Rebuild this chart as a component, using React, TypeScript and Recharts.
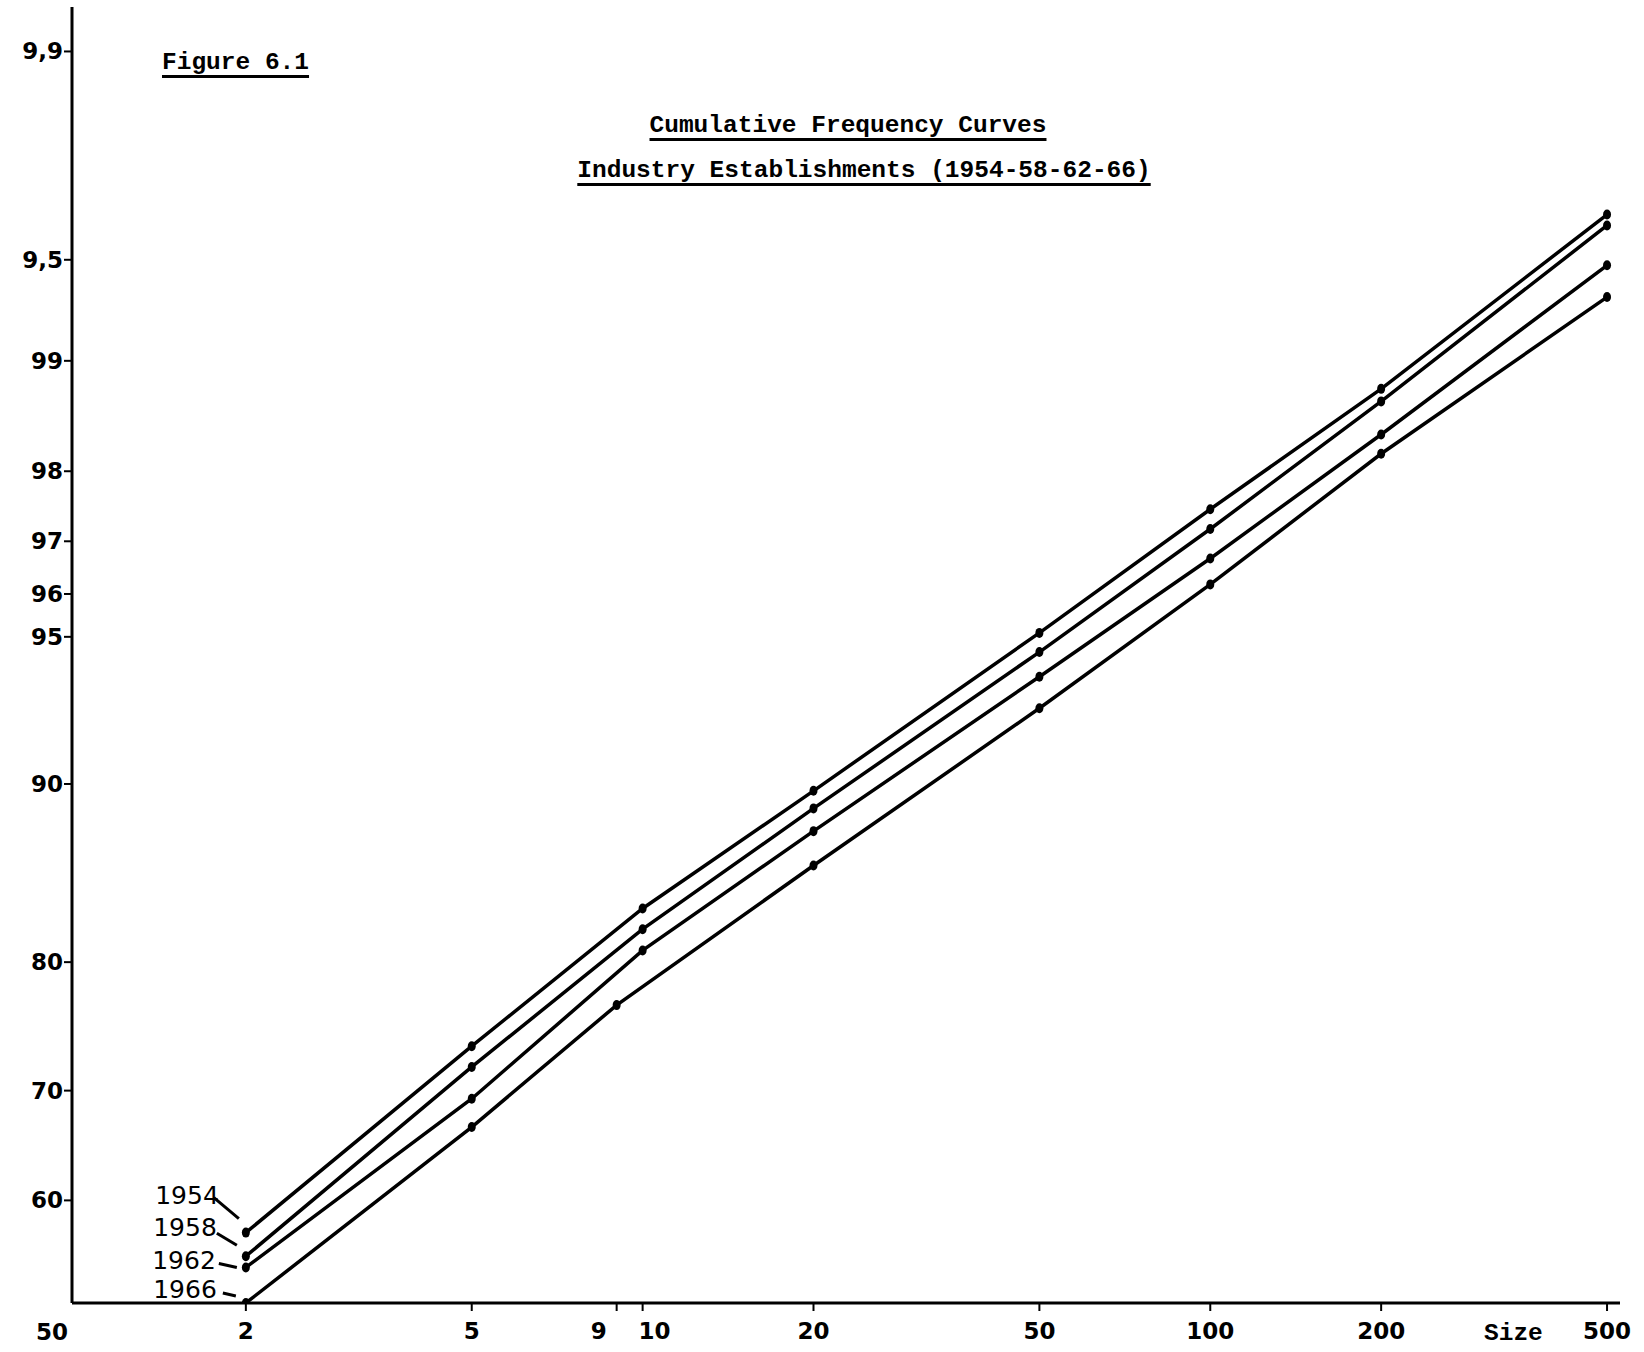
import React from 'react';
import { LineChart, Line, XAxis, YAxis } from 'recharts';

// size classes (establishment size), log scale
const sizes = [2, 5, 10, 20, 50, 100, 200, 500];
const sizes1966 = [2, 5, 9, 20, 50, 100, 200, 500];

// cumulative % of establishments
const pct1954 = [56.9, 73.7, 83.5, 89.7, 95.1, 97.5, 98.8, 99.64];
const pct1958 = [54.6, 72.0, 82.2, 88.9, 94.6, 97.2, 98.7, 99.61];
const pct1962 = [53.5, 69.3, 80.8, 87.8, 93.9, 96.7, 98.4, 99.48];
const pct1966 = [50.0, 66.8, 76.9, 86.0, 92.9, 96.2, 98.2, 99.35];

const xTicks = [2, 5, 9, 10, 20, 50, 100, 200, 500];
const yTickPct = [50, 60, 70, 80, 90, 95, 96, 97, 98, 99, 99.5, 99.9];
const yTickLabels = ['50', '60', '70', '80', '90', '95', '96', '97', '98', '99', '9,5', '9,9'];

// inverse normal cdf (Acklam) -> turns the y axis into probability paper
function probit(p: number) {
  const a = [-39.69683028665376, 220.9460984245205, -275.9285104469687, 138.357751867269, -30.66479806614716, 2.506628277459239];
  const b = [-54.47609879822406, 161.5858368580409, -155.6989798598866, 66.80131188771972, -13.28068155288572];
  const c = [-0.007784894002430293, -0.3223964580411365, -2.400758277161838, -2.549732539343734, 4.374664141464968, 2.938163982698783];
  const d = [0.007784695709041462, 0.3224671290700398, 2.445134137142996, 3.754408661907416];
  const plow = 0.02425;
  if (p === 0.5) return 0;
  if (p < plow) {
    const q = Math.sqrt(-2 * Math.log(p));
    return (((((c[0] * q + c[1]) * q + c[2]) * q + c[3]) * q + c[4]) * q + c[5]) / ((((d[0] * q + d[1]) * q + d[2]) * q + d[3]) * q + 1);
  }
  if (p <= 1 - plow) {
    const q = p - 0.5;
    const r = q * q;
    return ((((((a[0] * r + a[1]) * r + a[2]) * r + a[3]) * r + a[4]) * r + a[5]) * q) / (((((b[0] * r + b[1]) * r + b[2]) * r + b[3]) * r + b[4]) * r + 1);
  }
  const q = Math.sqrt(-2 * Math.log(1 - p));
  return -(((((c[0] * q + c[1]) * q + c[2]) * q + c[3]) * q + c[4]) * q + c[5]) / ((((d[0] * q + d[1]) * q + d[2]) * q + d[3]) * q + 1);
}

const toRows = (xs: number[], pcts: number[]) =>
  xs.map((size, i) => ({ size, z: probit(pcts[i] / 100) }));

const series = [
  { year: '1954', data: toRows(sizes, pct1954) },
  { year: '1958', data: toRows(sizes, pct1958) },
  { year: '1962', data: toRows(sizes, pct1962) },
  { year: '1966', data: toRows(sizes1966, pct1966) },
];

// where the year label + leader dash sit relative to the first point
const labelOffset: Record<string, { tx: number; ty: number; l: number[] }> = {
  '1954': { tx: -27, ty: -29, l: [-32, -35, -7, -14] },
  '1958': { tx: -29, ty: -20, l: [-29, -23, -9, -11] },
  '1962': { tx: -30, ty: 2, l: [-27, -4, -9, 0] },
  '1966': { tx: -29, ty: -5, l: [-23, -10, -10, -7] },
};

// the hand-lettered 9 and 10 sit either side of their ticks
const xLabelShift: Record<number, number> = { 9: -18, 10: 12 };

const numFont = '"DejaVu Sans", sans-serif';
const typeFont = '"Liberation Mono", monospace';

const renderDot = (year: string) => (props: any) => {
  const { cx, cy, index } = props;
  const o = labelOffset[year];
  return (
    <g key={`${year}-${index}`}>
      <ellipse cx={cx} cy={cy} rx={4} ry={5} fill="#000" />
      {index === 0 && (
        <g>
          <line x1={cx + o.l[0]} y1={cy + o.l[1]} x2={cx + o.l[2]} y2={cy + o.l[3]} stroke="#000" strokeWidth={3} />
          <text x={cx + o.tx} y={cy + o.ty} textAnchor="end" fontFamily={numFont} fontSize={25} fill="#000">
            {year}
          </text>
        </g>
      )}
    </g>
  );
};

const XTick = (props: any) => {
  const { x, y, payload } = props;
  const shift = xLabelShift[payload.value] || 0;
  return (
    <text x={x + shift} y={y + 24} textAnchor="middle" fontFamily={numFont} fontWeight="bold" fontSize={23} fill="#000">
      {payload.value}
    </text>
  );
};

const YTick = (props: any) => {
  const { y, index } = props;
  const label = yTickLabels[index];
  if (index === 0) {
    return (
      <text x={68} y={y + 37} textAnchor="end" fontFamily={numFont} fontWeight="bold" fontSize={23} fill="#000">
        {label}
      </text>
    );
  }
  return (
    <g>
      <line x1={64} y1={y} x2={72} y2={y} stroke="#000" strokeWidth={2} />
      <text x={63} y={y + 8} textAnchor="end" fontFamily={numFont} fontWeight="bold" fontSize={23} fill="#000">
        {label}
      </text>
    </g>
  );
};

const textStyle: React.CSSProperties = {
  position: 'absolute',
  fontFamily: typeFont,
  fontWeight: 'bold',
  fontSize: 24.5,
  lineHeight: '30px',
  whiteSpace: 'nowrap',
  textDecoration: 'underline',
  textDecorationThickness: '3px',
  textUnderlineOffset: '6px',
  color: '#000',
};

export default function App() {
  return (
    <div style={{ position: 'absolute', left: 0, top: 0, width: 1644, height: 1352, background: '#fff' }}>
      <LineChart width={1644} height={1352} margin={{ top: 7, right: 24, bottom: 0, left: 0 }}>
        <XAxis
          dataKey="size"
          type="number"
          scale="log"
          domain={[0.988, 527]}
          ticks={xTicks}
          allowDataOverflow
          height={49}
          axisLine={{ stroke: '#000', strokeWidth: 3 }}
          tickLine={{ stroke: '#000', strokeWidth: 2 }}
          tickSize={8}
          tickMargin={4}
          tick={<XTick />}
        />
        <YAxis
          dataKey="z"
          type="number"
          domain={[0, 3.2]}
          ticks={yTickPct.map((p) => probit(p / 100))}
          allowDataOverflow
          width={72}
          axisLine={{ stroke: '#000', strokeWidth: 3 }}
          tickLine={false}
          tick={<YTick />}
        />
        {series.map((s) => (
          <Line
            key={s.year}
            data={s.data}
            dataKey="z"
            name={s.year}
            type="linear"
            stroke="#000"
            strokeWidth={3.5}
            dot={renderDot(s.year)}
            activeDot={false}
            isAnimationActive={false}
          />
        ))}
      </LineChart>
      <div style={{ ...textStyle, left: 162, top: 48 }}>Figure 6.1</div>
      <div style={{ ...textStyle, left: 448, width: 800, top: 111, textAlign: 'center' }}>
        Cumulative Frequency Curves
      </div>
      <div style={{ ...textStyle, left: 464, width: 800, top: 156, textAlign: 'center' }}>
        Industry Establishments (1954-58-62-66)
      </div>
      <div style={{ ...textStyle, left: 1484, top: 1319, textDecoration: 'none' }}>Size</div>
    </div>
  );
}
